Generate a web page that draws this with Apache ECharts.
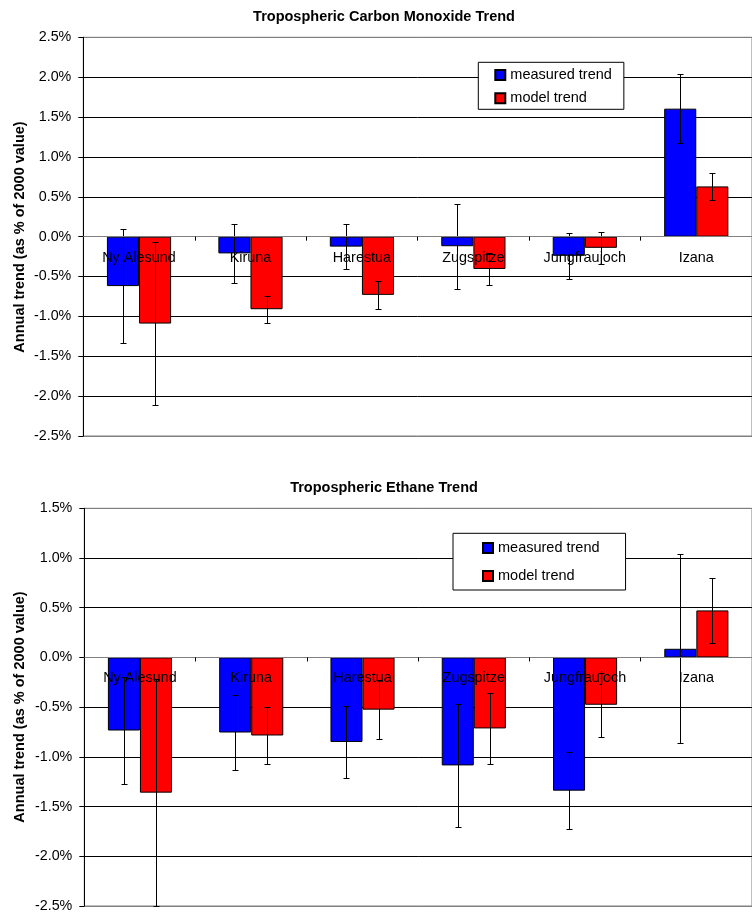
<!DOCTYPE html>
<html>
<head>
<meta charset="utf-8">
<script src="https://cdn.jsdelivr.net/npm/echarts@6/dist/echarts.min.js"></script>
<style>
html,body{margin:0;padding:0;background:#fff;}
#chart{width:752px;height:914px;}
</style>
</head>
<body>
<div id="chart"></div>
<script>
const categories = ['Ny Alesund', 'Kiruna', 'Harestua', 'Zugspitze', 'Jungfraujoch', 'Izana'];
const seriesNames = ['measured trend', 'model trend'];
const titleCO = 'Tropospheric Carbon Monoxide Trend';
const titleEth = 'Tropospheric Ethane Trend';
const yTitle = 'Annual trend (as % of 2000 value)';

// Carbon monoxide (%/yr) and error half-widths
const coMeasured = [-0.62, -0.21, -0.125, -0.12, -0.24, 1.605];
const coMeasuredErr = [0.715, 0.37, 0.28, 0.535, 0.285, 0.435];
const coModel = [-1.09, -0.91, -0.73, -0.405, -0.14, 0.63];
const coModelErr = [1.02, 0.17, 0.18, 0.20, 0.20, 0.165];

// Ethane (%/yr) and error half-widths
const ethMeasured = [-0.735, -0.755, -0.85, -1.086, -1.34, 0.087];
const ethMeasuredErr = [0.54, 0.38, 0.365, 0.615, 0.39, 0.95];
const ethModel = [-1.36, -0.785, -0.525, -0.714, -0.476, 0.473];
const ethModelErr = [1.14, 0.29, 0.30, 0.355, 0.32, 0.33];

// axis ranges
const coAxis = {min: -2.5, max: 2.5, interval: 0.5};
const ethAxis = {min: -2.5, max: 1.5, interval: 0.5};

const FONT = "'Liberation Sans', Arial, sans-serif";
const BLUE = '#0000FF', RED = '#FF0000';
const CAT_GAP = 0.424;

function gridLineColors(ax) {
  const n = Math.round((ax.max - ax.min) / ax.interval) + 1;
  const arr = [];
  for (let i = 0; i < n; i++) {
    const v = ax.min + i * ax.interval;
    arr.push((i === 0 || i === n - 1 || Math.abs(v) < 1e-9) ? '#808080' : '#000000');
  }
  return arr;
}

function errRender(offsetSign) {
  return function (params, api) {
    const idx = api.value(0), v = api.value(1), e = api.value(2);
    const bw = api.size([1, 0])[0];
    const c = api.coord([idx, v]);
    const x = Math.round(c[0] + offsetSign * bw * (1 - CAT_GAP) / 4) + 0.5;
    const yTop = Math.round(api.coord([idx, v + e])[1]) + 0.5;
    const yBot = Math.round(api.coord([idx, v - e])[1]) + 0.5;
    const st = {stroke: '#000', lineWidth: 1};
    return {
      type: 'group',
      children: [
        {type: 'line', shape: {x1: x, y1: yTop, x2: x, y2: yBot}, style: st},
        {type: 'line', shape: {x1: x - 3, y1: yTop, x2: x + 3, y2: yTop}, style: st},
        {type: 'line', shape: {x1: x - 3, y1: yBot, x2: x + 3, y2: yBot}, style: st}
      ]
    };
  };
}

function errData(vals, errs) {
  return vals.map((v, i) => [i, v, errs[i]]);
}

// category labels drawn just below the zero line (axis crosses at 0)
function labelRender(params, api) {
  const idx = api.value(0);
  const c = api.coord([idx, 0]);
  return {
    type: 'text', x: c[0], y: c[1] + 21,
    style: {text: categories[idx], fontFamily: FONT, fontSize: 14.4, fill: '#000',
      align: 'center', verticalAlign: 'middle'}
  };
}

function labelSeries(gi) {
  return {
    type: 'custom', name: 'lbl' + gi, xAxisIndex: gi, yAxisIndex: gi,
    data: categories.map((c, i) => [i, 0]), renderItem: labelRender,
    encode: {x: 0, y: 1}, clip: false, z: 6, silent: true
  };
}

function xAxisFor(gi) {
  return {
    type: 'category', gridIndex: gi, data: categories, z: 5,
    axisLine: {show: true, onZero: true, lineStyle: {color: '#808080', width: 1}},
    axisTick: {show: true, length: 4, alignWithLabel: false, lineStyle: {color: '#000'}},
    axisLabel: {show: false},
    splitLine: {show: false}
  };
}

function yAxisFor(gi, ax) {
  return {
    type: 'value', gridIndex: gi, min: ax.min, max: ax.max, interval: ax.interval,
    axisLine: {show: true, onZero: false, lineStyle: {color: '#000', width: 1}},
    axisTick: {show: true, length: 5, inside: false, lineStyle: {color: '#000'}},
    axisLabel: {margin: 12, color: '#000', fontFamily: FONT, fontSize: 14.3,
      formatter: v => v.toFixed(1) + '%'},
    splitLine: {show: true, lineStyle: {color: gridLineColors(ax), width: 1}}
  };
}

function barSeries(name, gi, data, color) {
  return {
    name: name, type: 'bar', xAxisIndex: gi, yAxisIndex: gi, data: data,
    barGap: '0%', barCategoryGap: (CAT_GAP * 100) + '%',
    itemStyle: {color: color, borderColor: '#000', borderWidth: 1},
    emphasis: {disabled: true}, z: 2
  };
}

function errSeries(gi, vals, errs, sign) {
  return {
    type: 'custom', name: 'err' + gi + sign, xAxisIndex: gi, yAxisIndex: gi,
    data: errData(vals, errs), renderItem: errRender(sign),
    encode: {x: 0, y: 1}, clip: false, z: 4, silent: true
  };
}

function legendFor(left, top, pad, gap) {
  return {
    data: seriesNames, orient: 'vertical', left: left, top: top,
    padding: pad, itemGap: gap, itemWidth: 10, itemHeight: 10, icon: 'rect',
    backgroundColor: '#fff', borderColor: '#000', borderWidth: 1, borderRadius: 0,
    textStyle: {color: '#000', fontFamily: FONT, fontSize: 14.5, lineHeight: 16},
    selectedMode: false, z: 8
  };
}

const chart = echarts.init(document.getElementById('chart'), null, {renderer: 'canvas'});
chart.setOption({
  backgroundColor: '#fff',
  animation: false,
  title: [
    {text: titleCO, left: 384, top: 8.7, textAlign: 'center', padding: 0,
      textStyle: {fontFamily: FONT, fontSize: 14.5, fontWeight: 'bold', color: '#000', lineHeight: 16}},
    {text: titleEth, left: 384, top: 480.3, textAlign: 'center', padding: 0,
      textStyle: {fontFamily: FONT, fontSize: 14.5, fontWeight: 'bold', color: '#000', lineHeight: 16}}
  ],
  graphic: [
    {type: 'text', x: 20, y: 237, rotation: Math.PI / 2,
      style: {text: yTitle, fontFamily: FONT, fontSize: 14.5, fontWeight: 'bold', fill: '#000',
        align: 'center', verticalAlign: 'middle'}},
    {type: 'text', x: 20, y: 707, rotation: Math.PI / 2,
      style: {text: yTitle, fontFamily: FONT, fontSize: 14.5, fontWeight: 'bold', fill: '#000',
        align: 'center', verticalAlign: 'middle'}}
  ],
  legend: [
    legendFor(478.3, 62.3, [4.7, 12, 3, 16], 7.3),
    legendFor(453, 533.3, [6.7, 26, 6, 29], 12)
  ],
  grid: [
    {left: 83.3, top: 37.3, height: 398.7, right: -11.3, containLabel: false,
      show: true, borderColor: '#808080', borderWidth: 1, backgroundColor: 'transparent'},
    {left: 84.3, top: 508.3, height: 397.7, right: -10.3, containLabel: false,
      show: true, borderColor: '#808080', borderWidth: 1, backgroundColor: 'transparent'}
  ],
  xAxis: [xAxisFor(0), xAxisFor(1)],
  yAxis: [yAxisFor(0, coAxis), yAxisFor(1, ethAxis)],
  series: [
    barSeries(seriesNames[0], 0, coMeasured, BLUE),
    barSeries(seriesNames[1], 0, coModel, RED),
    errSeries(0, coMeasured, coMeasuredErr, -1),
    errSeries(0, coModel, coModelErr, 1),
    labelSeries(0),
    barSeries(seriesNames[0], 1, ethMeasured, BLUE),
    barSeries(seriesNames[1], 1, ethModel, RED),
    errSeries(1, ethMeasured, ethMeasuredErr, -1),
    errSeries(1, ethModel, ethModelErr, 1),
    labelSeries(1)
  ]
});
</script>
</body>
</html>
